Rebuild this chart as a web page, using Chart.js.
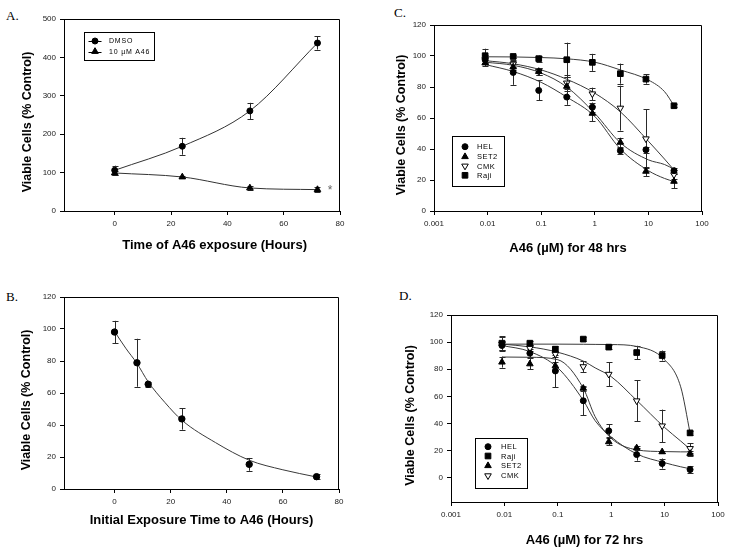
<!DOCTYPE html>
<html>
<head>
<meta charset="utf-8">
<script src="https://cdn.jsdelivr.net/npm/chart.js@4"></script>
<style>
  html, body { margin: 0; padding: 0; background: #fff; }
  body { width: 729px; height: 552px; position: relative; overflow: hidden; }
  canvas { position: absolute; }
  .tag { position: absolute; font-family: "Liberation Serif", "Times New Roman", serif; font-size: 13px; line-height: 13px; color: #000; }
</style>
</head>
<body>
<div class="tag" style="left:6px;top:9px">A.</div>
<div class="tag" style="left:6px;top:290px">B.</div>
<div class="tag" style="left:394px;top:6px">C.</div>
<div class="tag" style="left:399px;top:289px">D.</div>

<canvas id="chartA" width="365" height="270" style="left:0;top:0"></canvas>
<canvas id="chartB" width="365" height="277" style="left:0;top:275px"></canvas>
<canvas id="chartC" width="359" height="275" style="left:370px;top:0"></canvas>
<canvas id="chartD" width="359" height="262" style="left:370px;top:290px"></canvas>

<script>
// --- A: time course ---
const hoursA = [0, 24, 48, 72];
const dmsoA = [106, 168.6, 260.7, 437.5];
const dmsoErrA = [12, 22, 21, 17];
const a46A = [99, 88.6, 60, 55.7];
const a46ErrA = [6, 3, 6, 6];
const hourTicks = [0, 20, 40, 60, 80];
const ticksA = [0, 100, 200, 300, 400, 500];

// --- B: initial exposure time ---
const hoursB = [0, 8, 12, 24, 48, 72];
const viableB = [98.1, 78.9, 65.5, 43.8, 15.4, 7.7];
const errB = [7, 15, 1.5, 6.7, 4, 1.7];
const fitHoursB = [0, 4, 8, 12, 18, 24, 36, 48, 60, 72];
const fitB = [98.5, 88, 78.5, 67, 54, 43, 29, 18, 12, 7.5];

// --- C: dose response, 48 hrs ---
const doseC = [0.009, 0.03, 0.09, 0.3, 0.9, 3, 9, 30];
const helC = [97.6, 89.4, 77.8, 73.5, 67, 38.9, 39.5, 26];
const helErrC = [3, 8, 6.5, 5, 3, 2, 2, 2];
const set2C = [95.5, 92.9, 90, 80.4, 63, 44.3, 25.6, 19.1];
const set2ErrC = [2, 2, 2, 6, 5, 3, 3, 4.5];
const cmkC = [97.6, 94.8, 90, 82.6, 75.6, 66.4, 46.6, 23.4];
const cmkErrC = [2, 2, 2, 5, 4, 14.5, 19, 3];
const rajiC = [100.2, 99.7, 98.3, 97.6, 95.9, 88.6, 85.1, 67.9];
const rajiErrC = [4.5, 1, 2, 11, 5.5, 6.5, 3, 1];
const fitDoseC = [0.009, 0.03, 0.1, 0.3, 1, 3, 10, 20, 30];
const helFitC = [94.5, 90, 83, 73.5, 61, 40, 26, 21, 19];
const set2FitC = [96, 94, 89, 80, 63, 44, 33, 30, 27];
const cmkFitC = [97, 95, 91, 85, 76, 64, 45, 33.5, 26.5];
const rajiFitC = [99.5, 99.4, 99, 98.2, 96, 91, 84.5, 77, 68];

// --- D: dose response, 72 hrs ---
const doseD = [0.009, 0.03, 0.09, 0.3, 0.9, 3, 9, 30];
const helD = [97.5, 91.8, 78.7, 56.7, 34.5, 17, 10.4, 5.9];
const helErrD = [3, 3, 12, 10.5, 4.7, 4.5, 3.7, 2.7];
const rajiD = [99.2, 99.2, 94.8, 102.2, 96.3, 92.3, 90.1, 33];
const rajiErrD = [5, 1.5, 2, 1.5, 1.5, 5, 3.7, 1.5];
const set2D = [85.2, 83.9, 82.4, 65.9, 26.4, 21.9, 19, 17.8];
const set2ErrD = [4, 4, 3, 2, 2.5, 1.5, 1, 1.5];
const cmkD = [98.5, 95.5, 91.1, 81.9, 76.3, 56.7, 38.2, 21.5];
const cmkErrD = [5, 2, 2, 4, 9, 15, 12, 3.7];
const fitDoseD = [0.009, 0.03, 0.1, 0.3, 0.5, 1, 3, 10, 20, 30];
const helFitD = [97.5, 93, 81, 57, 42, 30, 17.5, 11, 8, 6.5];
const rajiFitD = [98.5, 98.5, 98.5, 98.4, 98.3, 98.2, 96.8, 87, 67, 33];
const set2FitD = [89, 88.8, 87, 66, 45, 29, 20.5, 19.2, 19, 19];
const cmkFitD = [98.5, 96.5, 92.5, 86, 81, 74.5, 57, 37, 27, 21];

const doseTicks = [0.001, 0.01, 0.1, 1, 10, 100];
const pctTicks = [0, 20, 40, 60, 80, 100, 120];

const SANS = '"Liberation Sans", Arial, sans-serif';
const yTitle = 'Viable Cells (% Control)';

function pts(xs, ys) {
  return xs.map((x, i) => ({ x: x, y: ys[i] }));
}

function markers(xs, ys, errs, shape, fill, r, rot, line) {
  return {
    data: pts(xs, ys),
    errors: errs,
    showLine: !!line,
    borderColor: '#333',
    borderWidth: 1,
    cubicInterpolationMode: 'monotone',
    pointStyle: shape,
    pointRotation: rot || 0,
    pointRadius: r,
    pointBackgroundColor: fill,
    pointBorderColor: '#000',
    pointBorderWidth: 1
  };
}

function curve(xs, ys) {
  return {
    data: pts(xs, ys),
    showLine: true,
    pointRadius: 0,
    borderColor: '#3a3a3a',
    borderWidth: 1,
    cubicInterpolationMode: 'monotone'
  };
}

// error bars, drawn under the markers
Chart.register({
  id: 'errorBars',
  beforeDatasetsDraw(chart) {
    const ctx = chart.ctx;
    const ys = chart.scales.y;
    ctx.save();
    ctx.strokeStyle = '#2a2a2a';
    ctx.lineWidth = 1;
    chart.data.datasets.forEach((ds, i) => {
      if (!ds.errors) return;
      const meta = chart.getDatasetMeta(i);
      meta.data.forEach((pt, j) => {
        const e = ds.errors[j];
        if (!e) return;
        const v = ds.data[j].y;
        const x = Math.round(pt.x) + 0.5;
        const top = ys.getPixelForValue(v + e);
        const bot = ys.getPixelForValue(v - e);
        ctx.beginPath();
        ctx.moveTo(x, top); ctx.lineTo(x, bot);
        ctx.moveTo(x - 3, Math.round(top) + 0.5); ctx.lineTo(x + 3, Math.round(top) + 0.5);
        ctx.moveTo(x - 3, Math.round(bot) + 0.5); ctx.lineTo(x + 3, Math.round(bot) + 0.5);
        ctx.stroke();
      });
    });
    ctx.restore();
  }
});

// top and right edges of the plot frame
Chart.register({
  id: 'frame',
  afterDatasetsDraw(chart) {
    const { ctx, chartArea: a } = chart;
    const l = Math.round(a.left) + 0.5, t = Math.round(a.top) + 0.5;
    const r = Math.round(a.right) - 0.5, b = Math.round(a.bottom);
    ctx.save();
    ctx.strokeStyle = '#000';
    ctx.lineWidth = 1;
    ctx.beginPath();
    ctx.moveTo(l, t); ctx.lineTo(r, t); ctx.lineTo(r, b);
    ctx.stroke();
    ctx.restore();
  }
});

function drawMarker(ctx, ds, x, y) {
  const r = ds.pointRadius;
  ctx.beginPath();
  if (ds.pointStyle === 'rect') {
    const s = r * Math.SQRT1_2;
    ctx.rect(x - s, y - s, 2 * s, 2 * s);
  } else if (ds.pointStyle === 'triangle') {
    const k = ds.pointRotation === 180 ? -1 : 1;
    ctx.moveTo(x, y - k * r);
    ctx.lineTo(x + 0.866 * r, y + k * r / 2);
    ctx.lineTo(x - 0.866 * r, y + k * r / 2);
    ctx.closePath();
  } else {
    ctx.arc(x, y, r, 0, Math.PI * 2);
  }
  ctx.fillStyle = ds.pointBackgroundColor;
  ctx.fill();
  ctx.strokeStyle = '#000';
  ctx.lineWidth = 1;
  ctx.stroke();
}

// boxed legend inside the plot
Chart.register({
  id: 'boxLegend',
  afterDatasetsDraw(chart, args, o) {
    if (!o || !o.rows) return;
    const { ctx, chartArea: a } = chart;
    ctx.save();
    const bx = Math.round(a.left + o.x) + 0.5, by = Math.round(a.top + o.y) + 0.5;
    ctx.fillStyle = '#fff';
    ctx.fillRect(bx, by, o.w, o.h);
    ctx.strokeStyle = '#000';
    ctx.lineWidth = 1;
    ctx.strokeRect(bx, by, o.w, o.h);
    o.rows.forEach((row, i) => {
      const ds = chart.data.datasets[row.ds];
      const y = a.top + o.rowY[i];
      const mx = a.left + o.markerX;
      if (o.lineHalf) {
        ctx.strokeStyle = '#000';
        ctx.beginPath();
        ctx.moveTo(mx - o.lineHalf, Math.round(y) + 0.5);
        ctx.lineTo(mx + o.lineHalf, Math.round(y) + 0.5);
        ctx.stroke();
      }
      drawMarker(ctx, ds, mx, y);
      ctx.fillStyle = '#000';
      ctx.font = o.fontSize + 'px ' + SANS;
      ctx.textBaseline = 'middle';
      if (o.spacing) ctx.letterSpacing = o.spacing;
      ctx.fillText(row.label, a.left + o.textX, y + 0.5);
      ctx.letterSpacing = '0px';
    });
    ctx.restore();
  }
});

// asterisk next to the last A46 point
Chart.register({
  id: 'note',
  afterDatasetsDraw(chart, args, o) {
    if (!o || !o.text) return;
    const { ctx, scales } = chart;
    ctx.save();
    ctx.fillStyle = '#666';
    ctx.font = '12px ' + SANS;
    ctx.textAlign = 'center';
    ctx.textBaseline = 'middle';
    ctx.fillText(o.text, scales.x.getPixelForValue(o.x), scales.y.getPixelForValue(o.y));
    ctx.restore();
  }
});

function panel(id, p) {
  return new Chart(document.getElementById(id), {
    type: 'line',
    data: { datasets: p.datasets },
    options: {
      responsive: false,
      animation: false,
      devicePixelRatio: 1,
      layout: { padding: { left: 0, top: p.padTop, right: p.padRight, bottom: 0 } },
      plugins: {
        legend: { display: false },
        tooltip: { enabled: false },
        boxLegend: p.legend,
        note: p.note || {}
      },
      scales: {
        x: {
          type: p.xType,
          min: p.xMin,
          max: p.xMax,
          afterBuildTicks: s => { s.ticks = p.xTicks.map(v => ({ value: v })); },
          afterFit: s => { s.height = p.xH; },
          ticks: { font: { family: SANS, size: 8 }, color: '#1a1a1a', padding: 4, maxRotation: 0, autoSkip: false, callback: v => String(v) },
          grid: { drawOnChartArea: false, drawTicks: true, tickLength: 4, color: '#000' },
          border: { display: true, color: '#000' },
          title: { display: true, text: p.xTitle, color: '#000', font: { family: SANS, size: 13, weight: 'bold' }, padding: { top: 0, bottom: p.xTitlePad } }
        },
        y: {
          type: 'linear',
          min: p.yMin,
          max: p.yMax,
          afterBuildTicks: s => { s.ticks = p.yTicks.map(v => ({ value: v })); },
          afterFit: s => { s.width = p.yW; },
          ticks: { font: { family: SANS, size: 8 }, color: '#1a1a1a', padding: 4, autoSkip: false },
          grid: { drawOnChartArea: false, drawTicks: true, tickLength: 4, color: '#000' },
          border: { display: true, color: '#000' },
          title: { display: true, text: yTitle + '    ', color: '#000', font: { family: SANS, size: 12.5, weight: 'bold' }, padding: { top: p.yTitlePad, bottom: 0 } }
        }
      }
    }
  });
}

panel('chartA', {
  datasets: [
    markers(hoursA, dmsoA, dmsoErrA, 'circle', '#000', 3, 0, true),
    markers(hoursA, a46A, a46ErrA, 'triangle', '#000', 3.8, 0, true)
  ],
  xType: 'linear', xMin: -18, xMax: 80, xTicks: hourTicks,
  yMin: 0, yMax: 500, yTicks: ticksA,
  xTitle: '       Time of A46 exposure (Hours)',
  padTop: 19, padRight: 25, yW: 64, xH: 59, xTitlePad: 17, yTitlePad: 20.5,
  legend: {
    x: 20, y: 13, w: 70, h: 28, markerX: 31, lineHalf: 6.5, textX: 45, rowY: [22, 32.5], fontSize: 7, spacing: '0.8px',
    rows: [{ ds: 0, label: 'DMSO' }, { ds: 1, label: '10 \u00b5M A46' }]
  },
  note: { text: '*', x: 76.5, y: 52 }
});

panel('chartB', {
  datasets: [
    markers(hoursB, viableB, errB, 'circle', '#000', 3.2),
    curve(fitHoursB, fitB)
  ],
  xType: 'linear', xMin: -18, xMax: 80, xTicks: hourTicks,
  yMin: 0, yMax: 120, yTicks: pctTicks,
  xTitle: 'Initial Exposure Time to A46 (Hours)',
  padTop: 22, padRight: 26, yW: 64, xH: 63, xTitlePad: 24, yTitlePad: 19.5,
  legend: {}
});

panel('chartC', {
  datasets: [
    markers(doseC, helC, helErrC, 'circle', '#000', 3),
    markers(doseC, set2C, set2ErrC, 'triangle', '#000', 3.8),
    markers(doseC, cmkC, cmkErrC, 'triangle', '#fff', 3.8, 180),
    markers(doseC, rajiC, rajiErrC, 'rect', '#000', 4),
    curve(fitDoseC, helFitC),
    curve(fitDoseC, set2FitC),
    curve(fitDoseC, cmkFitC),
    curve(fitDoseC, rajiFitC)
  ],
  xType: 'logarithmic', xMin: 0.001, xMax: 100, xTicks: doseTicks,
  yMin: 0, yMax: 120, yTicks: pctTicks,
  xTitle: 'A46 (\u00b5M) for 48 hrs',
  padTop: 25, padRight: 27, yW: 64, xH: 64, xTitlePad: 19, yTitlePad: 24.5,
  legend: {
    x: 18, y: 111, w: 52, h: 50, markerX: 31, textX: 43, rowY: [121.7, 131.7, 141, 150.3], fontSize: 7.5, spacing: '0.5px',
    rows: [{ ds: 0, label: 'HEL' }, { ds: 1, label: 'SET2' }, { ds: 2, label: 'CMK' }, { ds: 3, label: 'Raji' }]
  }
});

panel('chartD', {
  datasets: [
    markers(doseD, helD, helErrD, 'circle', '#000', 3),
    markers(doseD, rajiD, rajiErrD, 'rect', '#000', 4),
    markers(doseD, set2D, set2ErrD, 'triangle', '#000', 3.8),
    markers(doseD, cmkD, cmkErrD, 'triangle', '#fff', 3.8, 180),
    curve(fitDoseD, helFitD),
    curve(fitDoseD, rajiFitD),
    curve(fitDoseD, set2FitD),
    curve(fitDoseD, cmkFitD)
  ],
  xType: 'logarithmic', xMin: 0.001, xMax: 100, xTicks: doseTicks,
  yMin: -18, yMax: 120, yTicks: pctTicks,
  xTitle: 'A46 (\u00b5M) for 72 hrs',
  padTop: 25, padRight: 11, yW: 81, xH: 50, xTitlePad: 4, yTitlePad: 33.5,
  legend: {
    x: 24, y: 123, w: 52, h: 50, markerX: 37, textX: 50, rowY: [131.7, 141, 150.7, 160.7], fontSize: 7.5, spacing: '0.5px',
    rows: [{ ds: 0, label: 'HEL' }, { ds: 1, label: 'Raji' }, { ds: 2, label: 'SET2' }, { ds: 3, label: 'CMK' }]
  }
});
</script>
</body>
</html>
